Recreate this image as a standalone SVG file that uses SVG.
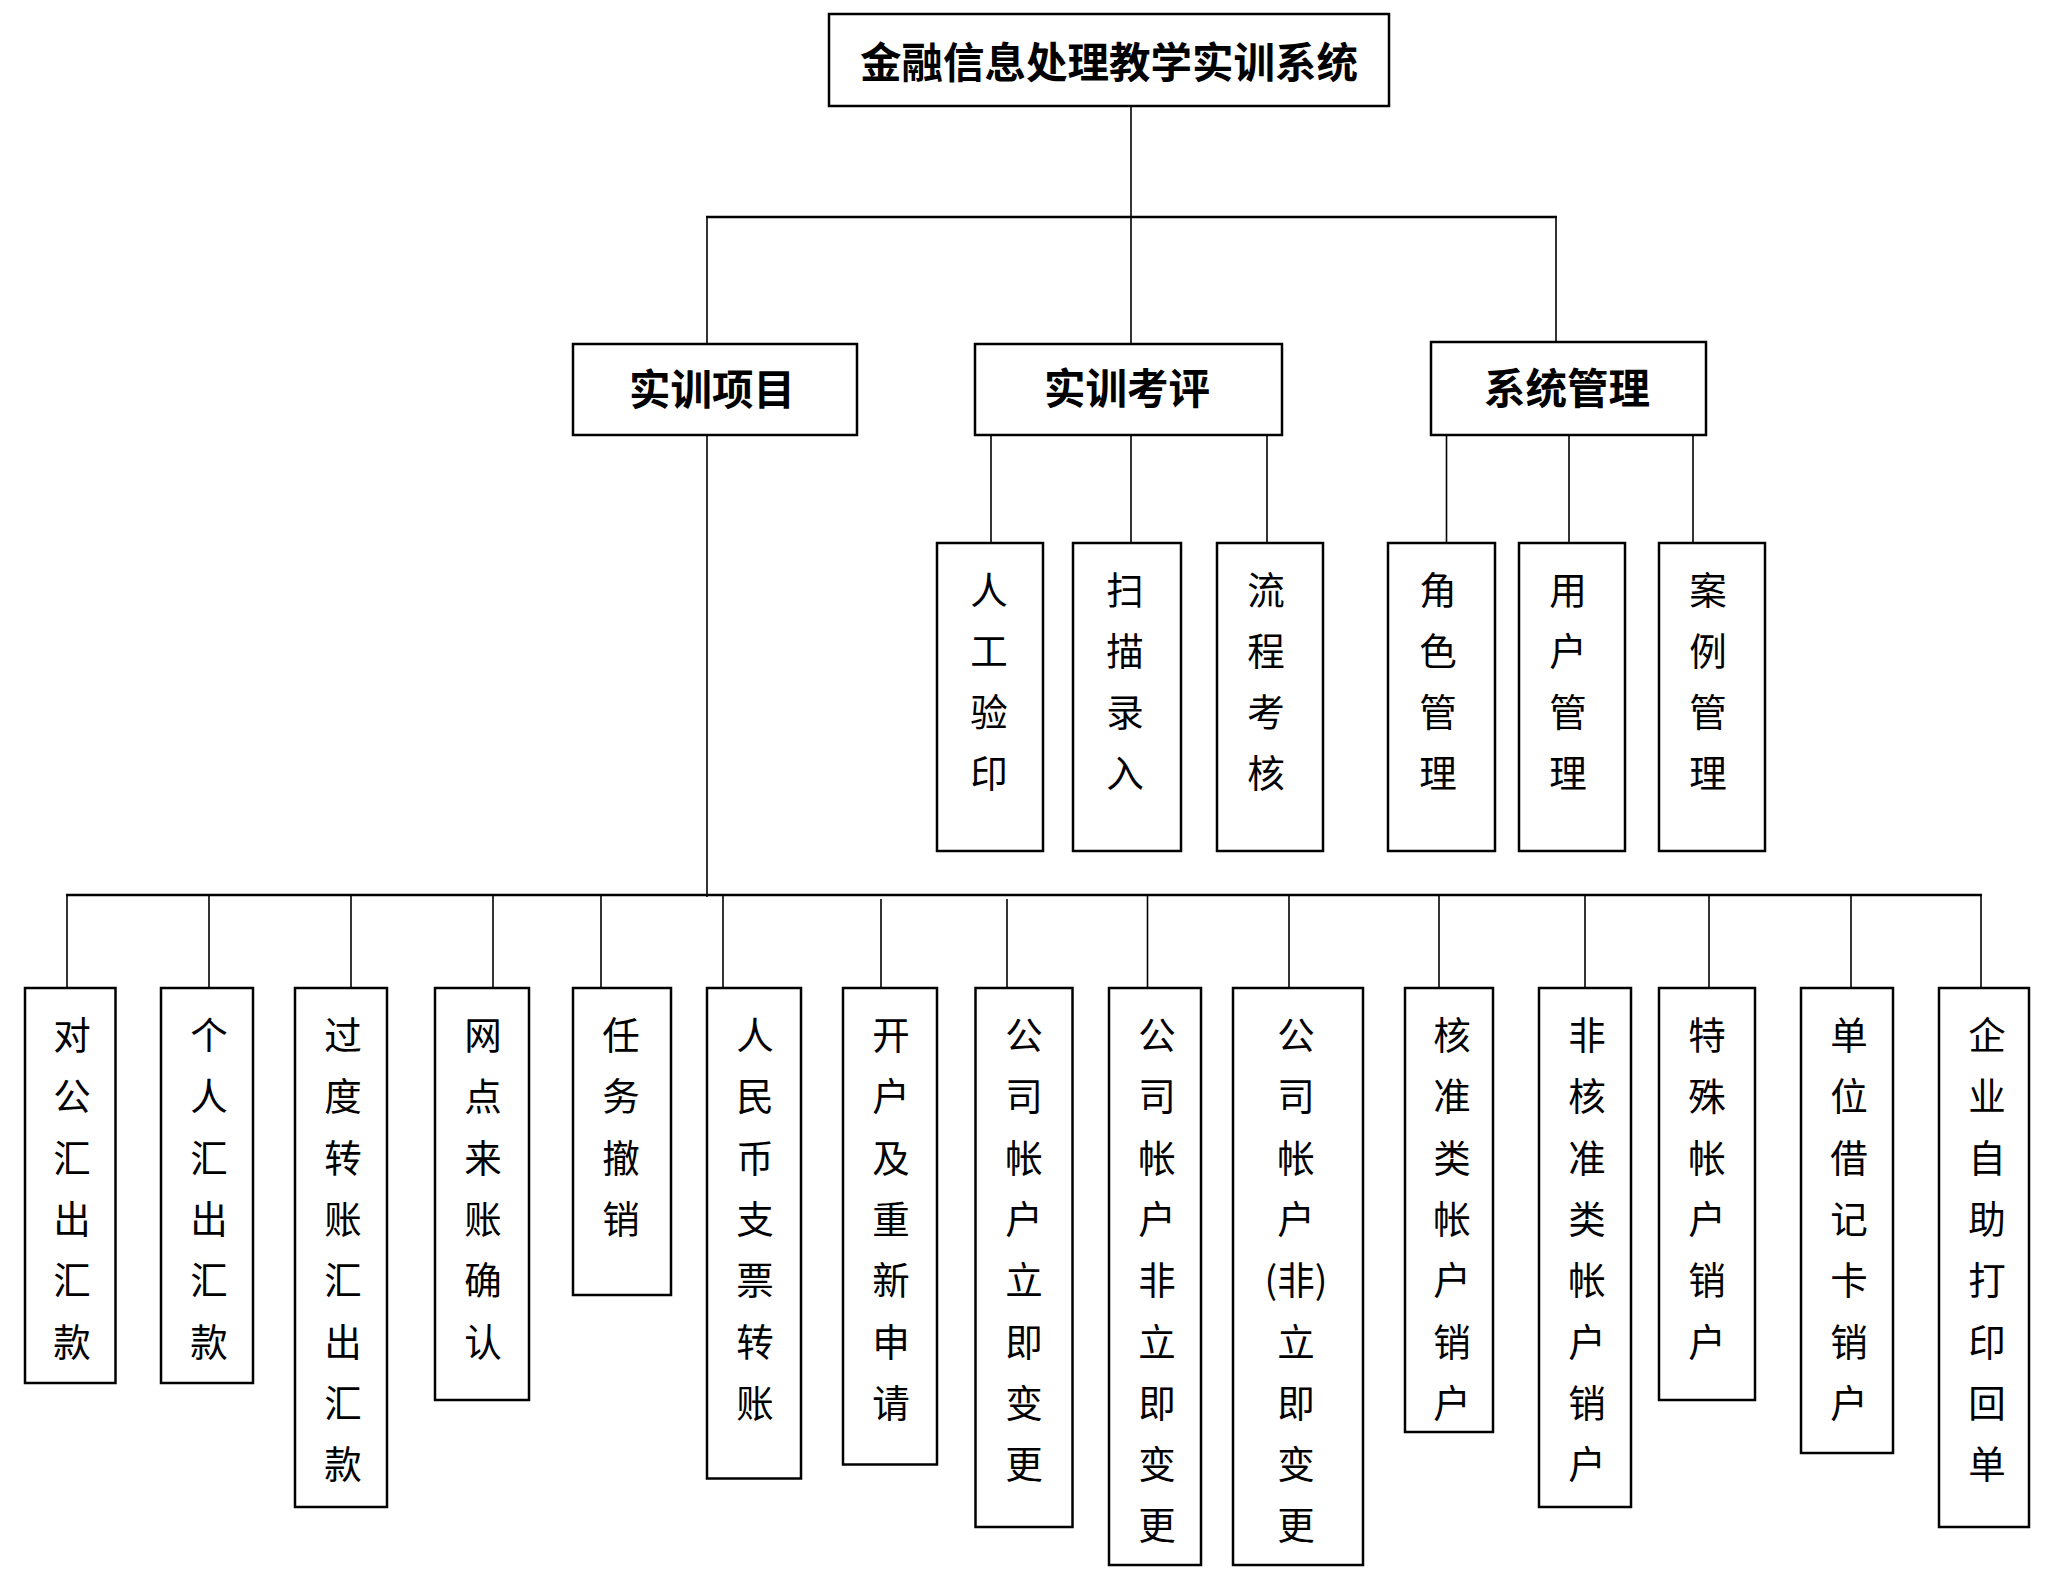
<svg xmlns="http://www.w3.org/2000/svg" width="2054" height="1572" viewBox="0 0 2054 1572">
<style>
.box{fill:#fff;stroke:#000;stroke-width:2.5}
.ln{stroke:#000;stroke-width:1.6;fill:none}
.bus{stroke:#000;stroke-width:2.6;fill:none}
.h{font-family:"Noto Sans CJK SC","Noto Sans CJK TC",sans-serif;font-size:41.5px;font-weight:bold;text-anchor:middle;dominant-baseline:central;fill:#000}
.v{font-family:"Noto Sans CJK SC","Noto Sans CJK TC",sans-serif;font-size:37.5px;text-anchor:middle;dominant-baseline:central;fill:#000}
</style>
<rect width="2054" height="1572" fill="#fff"/>
<g id="connectors">
<line class="ln" x1="1131" y1="106" x2="1131" y2="344"/>
<line class="bus" x1="706" y1="217" x2="1557" y2="217"/>
<line class="ln" x1="707" y1="217" x2="707" y2="344"/>
<line class="ln" x1="1556" y1="217" x2="1556" y2="342"/>
<line class="ln" x1="991" y1="435" x2="991" y2="543"/>
<line class="ln" x1="1131" y1="435" x2="1131" y2="543"/>
<line class="ln" x1="1267" y1="435" x2="1267" y2="543"/>
<line class="ln" x1="1446.5" y1="435" x2="1446.5" y2="543"/>
<line class="ln" x1="1569" y1="435" x2="1569" y2="543"/>
<line class="ln" x1="1693" y1="435" x2="1693" y2="543"/>
<line class="ln" x1="707" y1="435" x2="707" y2="897"/>
<line class="bus" x1="66" y1="895" x2="1982" y2="895"/>
<line class="ln" x1="67" y1="895" x2="67" y2="988"/>
<line class="ln" x1="209" y1="895" x2="209" y2="988"/>
<line class="ln" x1="351" y1="895" x2="351" y2="988"/>
<line class="ln" x1="493" y1="895" x2="493" y2="988"/>
<line class="ln" x1="601" y1="895" x2="601" y2="988"/>
<line class="ln" x1="723" y1="895" x2="723" y2="988"/>
<line class="ln" x1="881" y1="899" x2="881" y2="988"/>
<line class="ln" x1="1007" y1="899" x2="1007" y2="988"/>
<line class="ln" x1="1147.5" y1="895" x2="1147.5" y2="988"/>
<line class="ln" x1="1289" y1="895" x2="1289" y2="988"/>
<line class="ln" x1="1439" y1="895" x2="1439" y2="988"/>
<line class="ln" x1="1585" y1="895" x2="1585" y2="988"/>
<line class="ln" x1="1709" y1="895" x2="1709" y2="988"/>
<line class="ln" x1="1851" y1="895" x2="1851" y2="988"/>
<line class="ln" x1="1981" y1="895" x2="1981" y2="988"/>
</g>
<g id="root">
<rect class="box" x="829" y="14" width="560" height="92"/>
<text class="h" x="1109" y="60">金融信息处理教学实训系统</text>
</g>
<g id="n_xiangmu">
<rect class="box" x="573" y="344" width="284" height="91"/>
<text class="h" x="712" y="387">实训项目</text>
</g>
<g id="n_kaoping">
<rect class="box" x="975" y="344" width="307" height="91"/>
<text class="h" x="1127" y="386">实训考评</text>
</g>
<g id="n_guanli">
<rect class="box" x="1431" y="342" width="275" height="93"/>
<text class="h" x="1567" y="386">系统管理</text>
</g>
<g id="n_rgyy">
<rect class="box" x="937" y="543" width="106" height="308"/>
<text class="v"><tspan x="989" y="587">人</tspan><tspan x="989" y="648">工</tspan><tspan x="989" y="709">验</tspan><tspan x="989" y="770">印</tspan></text>
</g>
<g id="n_smlr">
<rect class="box" x="1073" y="543" width="108" height="308"/>
<text class="v"><tspan x="1125" y="587">扫</tspan><tspan x="1125" y="648">描</tspan><tspan x="1125" y="709">录</tspan><tspan x="1125" y="770">入</tspan></text>
</g>
<g id="n_lckh">
<rect class="box" x="1217" y="543" width="106" height="308"/>
<text class="v"><tspan x="1266" y="587">流</tspan><tspan x="1266" y="648">程</tspan><tspan x="1266" y="709">考</tspan><tspan x="1266" y="770">核</tspan></text>
</g>
<g id="n_jsgl">
<rect class="box" x="1388" y="543" width="107" height="308"/>
<text class="v"><tspan x="1438" y="587">角</tspan><tspan x="1438" y="648">色</tspan><tspan x="1438" y="709">管</tspan><tspan x="1438" y="770">理</tspan></text>
</g>
<g id="n_yhgl">
<rect class="box" x="1519" y="543" width="106" height="308"/>
<text class="v"><tspan x="1568" y="587">用</tspan><tspan x="1568" y="648">户</tspan><tspan x="1568" y="709">管</tspan><tspan x="1568" y="770">理</tspan></text>
</g>
<g id="n_algl">
<rect class="box" x="1659" y="543" width="106" height="308"/>
<text class="v"><tspan x="1708" y="587">案</tspan><tspan x="1708" y="648">例</tspan><tspan x="1708" y="709">管</tspan><tspan x="1708" y="770">理</tspan></text>
</g>
<g id="b1">
<rect class="box" x="25" y="988" width="90.5" height="395"/>
<text class="v"><tspan x="72" y="1032">对</tspan><tspan x="72" y="1093.3">公</tspan><tspan x="72" y="1154.6">汇</tspan><tspan x="72" y="1215.9">出</tspan><tspan x="72" y="1277.2">汇</tspan><tspan x="72" y="1338.5">款</tspan></text>
</g>
<g id="b2">
<rect class="box" x="161" y="988" width="92" height="395"/>
<text class="v"><tspan x="209" y="1032">个</tspan><tspan x="209" y="1093.3">人</tspan><tspan x="209" y="1154.6">汇</tspan><tspan x="209" y="1215.9">出</tspan><tspan x="209" y="1277.2">汇</tspan><tspan x="209" y="1338.5">款</tspan></text>
</g>
<g id="b3">
<rect class="box" x="295" y="988" width="92" height="519"/>
<text class="v"><tspan x="343" y="1032">过</tspan><tspan x="343" y="1093.3">度</tspan><tspan x="343" y="1154.6">转</tspan><tspan x="343" y="1215.9">账</tspan><tspan x="343" y="1277.2">汇</tspan><tspan x="343" y="1338.5">出</tspan><tspan x="343" y="1399.8">汇</tspan><tspan x="343" y="1461.1">款</tspan></text>
</g>
<g id="b4">
<rect class="box" x="435" y="988" width="94" height="412"/>
<text class="v"><tspan x="483" y="1032">网</tspan><tspan x="483" y="1093.3">点</tspan><tspan x="483" y="1154.6">来</tspan><tspan x="483" y="1215.9">账</tspan><tspan x="483" y="1277.2">确</tspan><tspan x="483" y="1338.5">认</tspan></text>
</g>
<g id="b5">
<rect class="box" x="573" y="988" width="98" height="307"/>
<text class="v"><tspan x="621" y="1032">任</tspan><tspan x="621" y="1093.3">务</tspan><tspan x="621" y="1154.6">撤</tspan><tspan x="621" y="1215.9">销</tspan></text>
</g>
<g id="b6">
<rect class="box" x="707" y="988" width="94" height="490.5"/>
<text class="v"><tspan x="755" y="1032">人</tspan><tspan x="755" y="1093.3">民</tspan><tspan x="755" y="1154.6">币</tspan><tspan x="755" y="1215.9">支</tspan><tspan x="755" y="1277.2">票</tspan><tspan x="755" y="1338.5">转</tspan><tspan x="755" y="1399.8">账</tspan></text>
</g>
<g id="b7">
<rect class="box" x="843" y="988" width="94" height="476.5"/>
<text class="v"><tspan x="891" y="1032">开</tspan><tspan x="891" y="1093.3">户</tspan><tspan x="891" y="1154.6">及</tspan><tspan x="891" y="1215.9">重</tspan><tspan x="891" y="1277.2">新</tspan><tspan x="891" y="1338.5">申</tspan><tspan x="891" y="1399.8">请</tspan></text>
</g>
<g id="b8">
<rect class="box" x="975.5" y="988" width="97" height="539"/>
<text class="v"><tspan x="1024" y="1032">公</tspan><tspan x="1024" y="1093.3">司</tspan><tspan x="1024" y="1154.6">帐</tspan><tspan x="1024" y="1215.9">户</tspan><tspan x="1024" y="1277.2">立</tspan><tspan x="1024" y="1338.5">即</tspan><tspan x="1024" y="1399.8">变</tspan><tspan x="1024" y="1461.1">更</tspan></text>
</g>
<g id="b9">
<rect class="box" x="1109" y="988" width="92" height="577"/>
<text class="v"><tspan x="1157" y="1032">公</tspan><tspan x="1157" y="1093.3">司</tspan><tspan x="1157" y="1154.6">帐</tspan><tspan x="1157" y="1215.9">户</tspan><tspan x="1157" y="1277.2">非</tspan><tspan x="1157" y="1338.5">立</tspan><tspan x="1157" y="1399.8">即</tspan><tspan x="1157" y="1461.1">变</tspan><tspan x="1157" y="1522.4">更</tspan></text>
</g>
<g id="b10">
<rect class="box" x="1233" y="988" width="130" height="577"/>
<text class="v"><tspan x="1296" y="1032">公</tspan><tspan x="1296" y="1093.3">司</tspan><tspan x="1296" y="1154.6">帐</tspan><tspan x="1296" y="1215.9">户</tspan><tspan x="1296" y="1277.2">(非)</tspan><tspan x="1296" y="1338.5">立</tspan><tspan x="1296" y="1399.8">即</tspan><tspan x="1296" y="1461.1">变</tspan><tspan x="1296" y="1522.4">更</tspan></text>
</g>
<g id="b11">
<rect class="box" x="1405" y="988" width="88" height="444"/>
<text class="v"><tspan x="1452" y="1032">核</tspan><tspan x="1452" y="1093.3">准</tspan><tspan x="1452" y="1154.6">类</tspan><tspan x="1452" y="1215.9">帐</tspan><tspan x="1452" y="1277.2">户</tspan><tspan x="1452" y="1338.5">销</tspan><tspan x="1452" y="1399.8">户</tspan></text>
</g>
<g id="b12">
<rect class="box" x="1539" y="988" width="92" height="519"/>
<text class="v"><tspan x="1587" y="1032">非</tspan><tspan x="1587" y="1093.3">核</tspan><tspan x="1587" y="1154.6">准</tspan><tspan x="1587" y="1215.9">类</tspan><tspan x="1587" y="1277.2">帐</tspan><tspan x="1587" y="1338.5">户</tspan><tspan x="1587" y="1399.8">销</tspan><tspan x="1587" y="1461.1">户</tspan></text>
</g>
<g id="b13">
<rect class="box" x="1659" y="988" width="96" height="412"/>
<text class="v"><tspan x="1707" y="1032">特</tspan><tspan x="1707" y="1093.3">殊</tspan><tspan x="1707" y="1154.6">帐</tspan><tspan x="1707" y="1215.9">户</tspan><tspan x="1707" y="1277.2">销</tspan><tspan x="1707" y="1338.5">户</tspan></text>
</g>
<g id="b14">
<rect class="box" x="1801" y="988" width="92" height="465"/>
<text class="v"><tspan x="1849" y="1032">单</tspan><tspan x="1849" y="1093.3">位</tspan><tspan x="1849" y="1154.6">借</tspan><tspan x="1849" y="1215.9">记</tspan><tspan x="1849" y="1277.2">卡</tspan><tspan x="1849" y="1338.5">销</tspan><tspan x="1849" y="1399.8">户</tspan></text>
</g>
<g id="b15">
<rect class="box" x="1939" y="988" width="90" height="539"/>
<text class="v"><tspan x="1987" y="1032">企</tspan><tspan x="1987" y="1093.3">业</tspan><tspan x="1987" y="1154.6">自</tspan><tspan x="1987" y="1215.9">助</tspan><tspan x="1987" y="1277.2">打</tspan><tspan x="1987" y="1338.5">印</tspan><tspan x="1987" y="1399.8">回</tspan><tspan x="1987" y="1461.1">单</tspan></text>
</g>
</svg>
